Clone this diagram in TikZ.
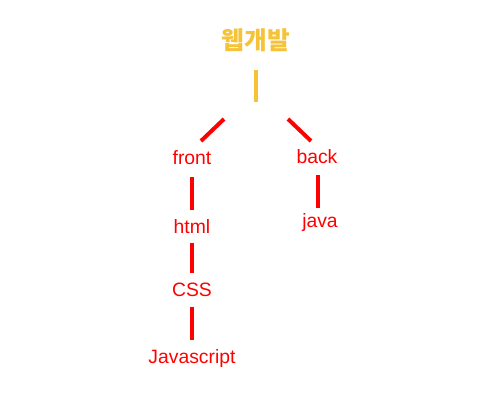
\documentclass[tikz,border=0pt]{standalone}
\usepackage{fontspec}
\setmainfont{Liberation Sans}
\newfontfamily\krfont{Noto Sans CJK KR}
\definecolor{gold}{HTML}{F6C238}
\definecolor{rd}{HTML}{FF0000}
\begin{document}
\begin{tikzpicture}[x=0.75pt,y=-0.75pt,
  lbl/.style={text=rd,font=\fontsize{14.5pt}{16pt}\selectfont,inner sep=0pt},
  ttl/.style={text=gold,font=\krfont\bfseries\fontsize{18.5pt}{20pt}\selectfont,inner sep=0pt},
  rl/.style={draw=rd,line width=3pt},
  yl/.style={draw=gold,line width=3pt}]
\useasboundingbox (0,0) rectangle (500,400);
\node[ttl] (t) at (256,40) {웹개발};
\node[lbl] (front) at (192,158) {front};
\node[lbl] (back) at (317,157) {back};
\node[lbl] (html) at (192,227) {html};
\node[lbl] (java) at (320,222) {java};
\node[lbl] (css) at (192,290) {CSS};
\node[lbl] (js) at (192,358) {Javascript};
\coordinate (y1) at (256,70); \coordinate (y2) at (256,102);
\draw[yl] (y1) -- (y2);
\coordinate (l1) at (224,119); \coordinate (l2) at (201,141);
\coordinate (r1) at (288,119); \coordinate (r2) at (311,141);
\draw[rl] (l1) -- (l2);
\draw[rl] (r1) -- (r2);
\coordinate (f1) at (192,177); \coordinate (f2) at (192,210);
\coordinate (b1) at (318,175); \coordinate (b2) at (318,208);
\coordinate (h1) at (192,243); \coordinate (h2) at (192,273);
\coordinate (c1) at (192,307); \coordinate (c2) at (192,340);
\draw[rl] (f1) -- (f2);
\draw[rl] (b1) -- (b2);
\draw[rl] (h1) -- (h2);
\draw[rl] (c1) -- (c2);
\end{tikzpicture}
\end{document}
